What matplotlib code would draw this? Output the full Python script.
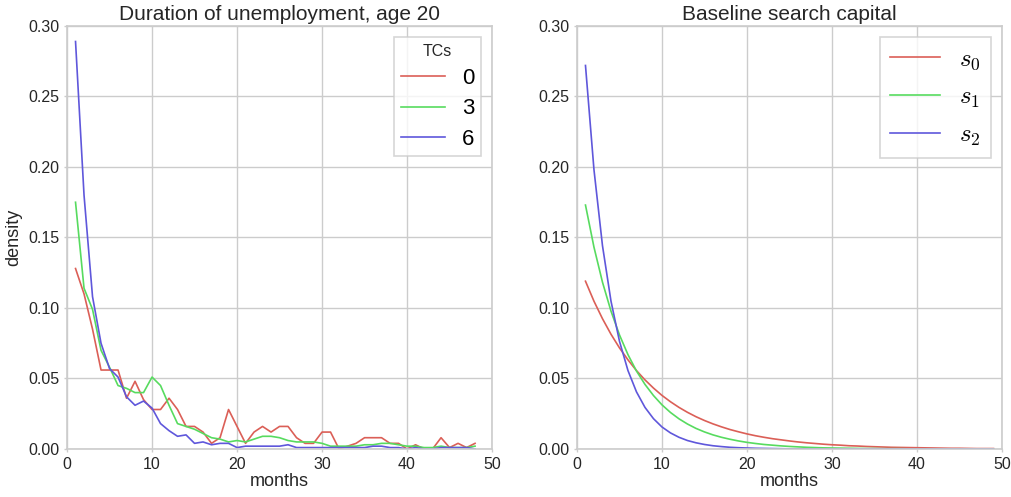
import matplotlib
matplotlib.use("Agg")
import matplotlib.pyplot as plt
import numpy as np

plt.rcParams['font.family'] = ['Liberation Sans', 'DejaVu Sans']
plt.rcParams['mathtext.fontset'] = 'cm'

# ---- data ----
months_left = list(range(1, 49))
tc_labels = ["0", "3", "6"]
tc0 = [0.128, 0.110, 0.085, 0.056, 0.056, 0.056, 0.036, 0.048, 0.035, 0.028,
       0.028, 0.036, 0.028, 0.016, 0.016, 0.012, 0.004, 0.008, 0.028, 0.016,
       0.004, 0.012, 0.016, 0.012, 0.016, 0.016, 0.008, 0.004, 0.004, 0.012,
       0.012, 0.000, 0.002, 0.004, 0.008, 0.008, 0.008, 0.004, 0.004, 0.000,
       0.003, 0.000, 0.000, 0.008, 0.001, 0.004, 0.001, 0.004]
tc3 = [0.175, 0.114, 0.099, 0.070, 0.058, 0.045, 0.043, 0.040, 0.040, 0.051,
       0.045, 0.031, 0.018, 0.016, 0.014, 0.011, 0.008, 0.007, 0.005, 0.006,
       0.005, 0.007, 0.009, 0.009, 0.008, 0.006, 0.005, 0.005, 0.005, 0.004,
       0.002, 0.002, 0.002, 0.002, 0.003, 0.003, 0.004, 0.004, 0.003, 0.002,
       0.002, 0.001, 0.001, 0.002, 0.001, 0.001, 0.001, 0.002]
tc6 = [0.289, 0.180, 0.108, 0.075, 0.057, 0.051, 0.037, 0.031, 0.034, 0.029,
       0.018, 0.013, 0.009, 0.010, 0.004, 0.005, 0.003, 0.004, 0.004, 0.001,
       0.002, 0.002, 0.002, 0.002, 0.002, 0.003, 0.001, 0.001, 0.001, 0.001,
       0.001, 0.001, 0.001, 0.001, 0.001, 0.002, 0.002, 0.001, 0.001, 0.000,
       0.001, 0.000, 0.000, 0.001, 0.001, 0.001, 0.001, 0.000]

months_right = list(range(1, 50))
s_labels = [r"$s_0$", r"$s_1$", r"$s_2$"]
s0 = [0.1190, 0.1048, 0.0924, 0.0814, 0.0717, 0.0632, 0.0556, 0.0490, 0.0432, 0.0380,
      0.0335, 0.0295, 0.0260, 0.0229, 0.0202, 0.0178, 0.0157, 0.0138, 0.0122, 0.0107,
      0.0094, 0.0083, 0.0073, 0.0065, 0.0057, 0.0050, 0.0044, 0.0039, 0.0034, 0.0030,
      0.0027, 0.0023, 0.0021, 0.0018, 0.0016, 0.0014, 0.0012, 0.0011, 0.0010, 0.0009,
      0.0008, 0.0007, 0.0006, 0.0005, 0.0005, 0.0004, 0.0003, 0.0003, 0.0003]
s1 = [0.1730, 0.1431, 0.1183, 0.0978, 0.0809, 0.0669, 0.0553, 0.0458, 0.0379, 0.0313,
      0.0259, 0.0214, 0.0177, 0.0146, 0.0121, 0.0100, 0.0083, 0.0069, 0.0057, 0.0047,
      0.0039, 0.0032, 0.0027, 0.0022, 0.0018, 0.0015, 0.0012, 0.0010, 0.0008, 0.0007,
      0.0006, 0.0005, 0.0004, 0.0003, 0.0003, 0.0002, 0.0002, 0.0002, 0.0001, 0.0001,
      0.0001, 0.0001, 0.00005, 0.00005, 0.00004, 0.00003, 0.00003, 0.00002, 0.00002]
s2 = [0.2720, 0.1980, 0.1442, 0.1049, 0.0764, 0.0556, 0.0405, 0.0295, 0.0215, 0.0156,
      0.0114, 0.0083, 0.0060, 0.0044, 0.0032, 0.0023, 0.0017, 0.0012, 0.0009, 0.0007,
      0.0005, 0.0004, 0.0003, 0.0002, 0.0001, 0.0001, 0.00007, 0.00005, 0.00004, 0.00003,
      0.00002, 0.00001, 0.00001, 0.0, 0.0, 0.0, 0.0, 0.0, 0.0, 0.0,
      0.0, 0.0, 0.0, 0.0, 0.0, 0.0, 0.0, 0.0, 0.0]

colors = ["#db5f57", "#57db5f", "#5f57db"]
grid_c = "#cccccc"

fig = plt.figure(figsize=(10.11, 4.97), dpi=100)
ax1 = fig.add_axes([0.0663, 0.0966, 0.4204, 0.8511])
ax2 = fig.add_axes([0.5707, 0.0966, 0.4204, 0.8511])

def style(ax):
    ax.set_facecolor("white")
    ax.grid(True, color=grid_c, linewidth=1.0)
    ax.set_axisbelow(True)
    for sp in ax.spines.values():
        sp.set_color(grid_c)
        sp.set_linewidth(1.2)
    ax.tick_params(axis='both', which='both', length=2.5, width=1, color=grid_c,
                   labelsize=11.5, labelcolor="#262626", pad=3)
    ax.set_xlim(0, 50)
    ax.set_ylim(0, 0.30)
    ax.set_xticks([0, 10, 20, 30, 40, 50])
    ax.set_yticks([0.00, 0.05, 0.10, 0.15, 0.20, 0.25, 0.30])
    ax.set_yticklabels(["0.00", "0.05", "0.10", "0.15", "0.20", "0.25", "0.30"])
    ax.set_xlabel("months", fontsize=13, color="#262626", labelpad=1)

style(ax1)
style(ax2)

for ys, lab, c in zip([tc0, tc3, tc6], tc_labels, colors):
    ax1.plot(months_left, ys, color=c, lw=1.2, label=lab)
ax1.set_title("Duration of unemployment, age 20", fontsize=15, color="#262626", pad=4)
ax1.set_ylabel("density", fontsize=13, color="#262626", labelpad=4)
leg1 = ax1.legend(title="TCs", fontsize=16, title_fontsize=11.5, loc="upper right",
                  fancybox=False, frameon=True, borderaxespad=0.5, handlelength=2.0,
                  handletextpad=0.75, labelspacing=0.42, borderpad=0.3)
leg1.get_frame().set_edgecolor(grid_c)
leg1.get_frame().set_linewidth(1.2)
leg1.get_title().set_color("#262626")

for ys, lab, c in zip([s0, s1, s2], s_labels, colors):
    ax2.plot(months_right, ys, color=c, lw=1.2, label=lab)
ax2.set_title("Baseline search capital", fontsize=15, color="#262626", pad=4)
leg2 = ax2.legend(fontsize=18, loc="upper right", fancybox=False, frameon=True,
                  borderaxespad=0.45, handlelength=2.0, handletextpad=0.75,
                  labelspacing=0.5, borderpad=0.4)
leg2.get_frame().set_edgecolor(grid_c)
leg2.get_frame().set_linewidth(1.2)

fig.savefig("out.png", dpi=100, facecolor="white")
